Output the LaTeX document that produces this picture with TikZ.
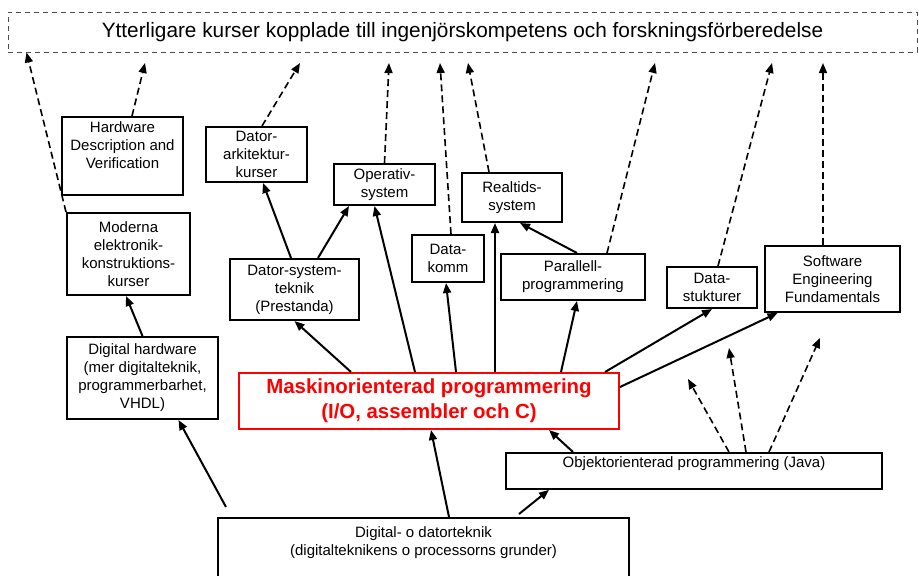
\documentclass[tikz,border=0pt]{standalone}
\usepackage{fontspec}
\setmainfont{Liberation Sans}
\usetikzlibrary{arrows.meta}

\begin{document}
\begin{tikzpicture}[x=1pt,y=-1pt]
	\tikzstyle{kurs}=[draw, line width=2pt, align=center, inner sep=2pt, font=\fontsize{15}{18}\selectfont]
	\tikzstyle{roed}=[kurs, draw=red, text=red, font=\fontsize{20.4}{25}\selectfont\bfseries]
	\tikzstyle{pil}=[line width=2pt, -{Triangle[length=10pt,width=8pt]}]
	\tikzstyle{streck}=[pil, line width=1.6pt, dash pattern=on 7pt off 4pt]
	\useasboundingbox (0,0) rectangle (919,576);

	\node[draw=black!70, line width=1pt, dash pattern=on 5pt off 4pt, minimum width=909pt, minimum height=40pt, font=\fontsize{20.8}{24}\selectfont] (ytter) at (462.5,32) {Ytterligare kurser kopplade till ingenjörskompetens och forskningsförberedelse};

	\node[kurs, anchor=north, minimum width=121pt, inner ysep=5pt, text depth=21pt] (hw) at (122.5,116) {Hardware\\Description and\\Verification};
	\node[kurs, minimum width=101pt, minimum height=55pt] (ark) at (256.5,154.5) {Dator-\\arkitektur-\\kurser};
	\node[kurs, minimum width=101pt, minimum height=41pt] (opsys) at (384.5,184.5) {Operativ-\\system};
	\node[kurs, minimum width=123pt, minimum height=82pt] (modern) at (128.5,254) {Moderna\\elektronik-\\konstruktions-\\kurser};
	\node[kurs, minimum width=129pt, minimum height=61pt] (dsys) at (294.5,289.5) {Dator-system-\\teknik\\(Prestanda)};
	\node[kurs, minimum width=72pt, minimum height=47pt] (komm) at (448,258.5) {Data-\\komm};
	\node[kurs, minimum width=100pt, minimum height=49pt] (rt) at (512,197.5) {Realtids-\\system};
	\node[kurs, minimum width=144pt, minimum height=46pt] (par) at (573,277) {Parallell-\\programmering};
	\node[kurs, minimum width=90pt, minimum height=41pt] (ds) at (712,287.5) {Data-\\stukturer};
	\node[kurs, minimum width=135pt, minimum height=66pt] (swe) at (832.5,279) {Software\\Engineering\\Fundamentals};
	\node[kurs, minimum width=151pt, minimum height=82pt] (dighw) at (142.5,378) {Digital hardware\\(mer digitalteknik,\\programmerbarhet,\\VHDL)};
	\node[roed, minimum width=380pt, minimum height=56pt] (mop) at (429,401) {Maskinorienterad programmering\\(I/O, assembler och C)};
	\node[kurs, anchor=north, minimum width=376pt, inner ysep=4pt, text depth=17pt] (oop) at (694,452) {Objektorienterad programmering (Java)};
	\node[kurs, anchor=north, minimum width=411pt, inner ysep=9pt, text depth=50pt] (dig) at (423.5,517) {Digital- o datorteknik\\(digitalteknikens o processorns grunder)};

	% grundkurser
	\draw[pil] ([xshift=9pt,yshift=10pt]dig.north west) -- ([xshift=36pt]dighw.south);
	\draw[pil] ([xshift=25.5pt]dig.north) -- ([xshift=2pt]mop.south);
	\draw[pil] ([xshift=95.5pt,yshift=3pt]dig.north) -- ([xshift=-145pt]oop.south);
	\draw[pil] ([xshift=-121pt]oop.north) -- ([xshift=120pt]mop.south);
	\draw[pil] (dighw.north) -- ([xshift=-2.5pt]modern.south);

	% fortsaettning fraan maskinorienterad
	\draw[pil] ([xshift=-78pt]mop.north) -- (dsys.south);
	\draw[pil] ([xshift=-14pt]mop.north) -- ([xshift=-10pt]opsys.south);
	\draw[pil] ([xshift=27pt]mop.north) -- ([xshift=-2pt]komm.south);
	\draw[pil] ([xshift=66pt]mop.north) -- ([xshift=-17pt]rt.south);
	\draw[pil] ([xshift=132pt]mop.north) -- ([xshift=4pt]par.south);
	\draw[pil] ([xshift=176pt]mop.north) -- (ds.south);
	\draw[pil] ([yshift=14pt]mop.east) -- ([xshift=-55pt]swe.south);
	\draw[pil] ([xshift=-3.5pt]dsys.north) -- ([xshift=6.5pt]ark.south);
	\draw[pil] ([xshift=23.5pt]dsys.north) -- ([xshift=-35.5pt]opsys.south);
	\draw[pil] ([xshift=4pt]par.north) -- ([xshift=8pt]rt.south);

	% streckade pilar uppaat
	\draw[streck] (modern.north west) -- ([xshift=19pt]ytter.south west);
	\foreach \n/\s/\x in {hw/9.5/145, ark/5.5/300, opsys/0/389, komm/3/440, rt/-23/468, par/34/655, ds/6/772, swe/-9.5/823} {
		\coordinate (upp-\n) at (\x,63);
		\draw[streck] ([xshift=\s pt]\n.north) -- (upp-\n);
	}
	\foreach \s/\x/\y [count=\i] in {35/688/379, 52/729/348, 75/820/338} {
		\coordinate (oop-upp\i) at (\x,\y);
		\draw[streck] ([xshift=\s pt]oop.north) -- (oop-upp\i);
	}
\end{tikzpicture}
\end{document}
